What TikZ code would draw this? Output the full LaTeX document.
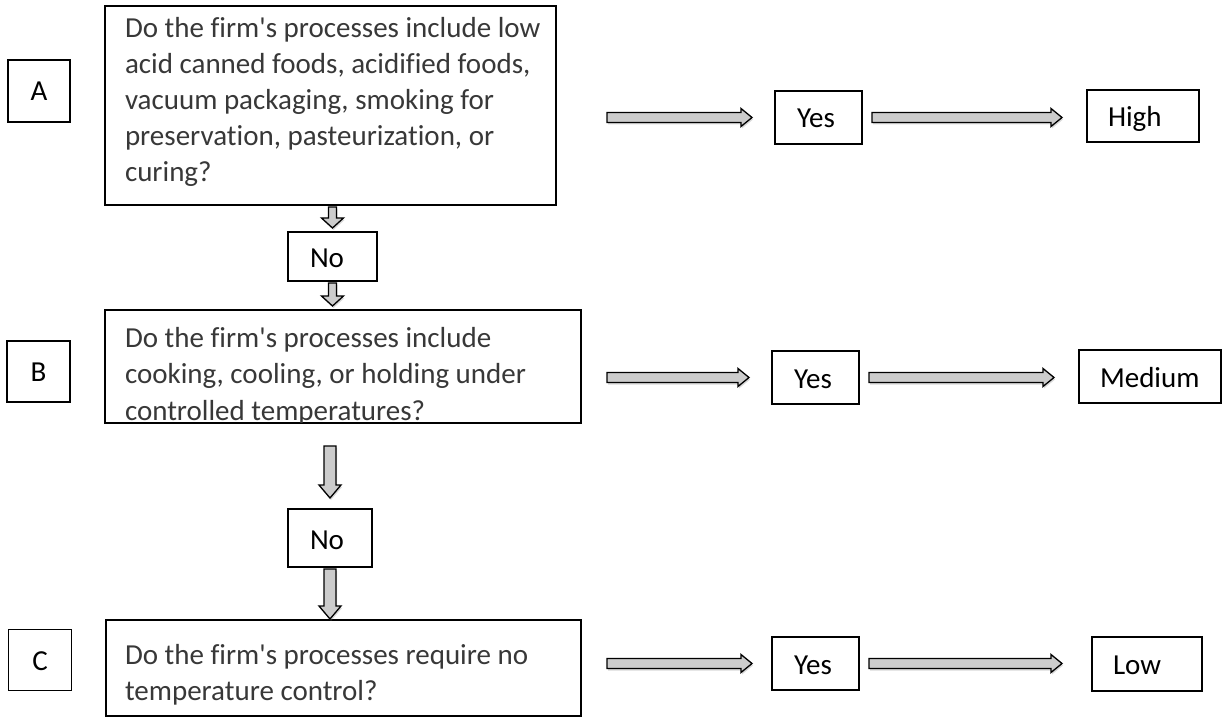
\documentclass[tikz,border=0pt]{standalone}
\usepackage{fontspec}
\setmainfont{Carlito}[Ligatures={NoCommon}]
\usetikzlibrary{calc,shadows}
\newcommand{\apo}{\textquotesingle}
\begin{document}
\begin{tikzpicture}[x=1pt,y=-1pt,
  every node/.style={inner sep=0pt, outer sep=0pt},
  bx/.style={draw=black, line width=1.6pt, fill=white},
  tx/.style={font=\fontsize{29}{36}\selectfont, text=black},
  qt/.style={font=\fontsize{29}{36}\selectfont, text=black!78, anchor=base west},
  arr/.style={draw=black, line width=1.3pt, fill=black!20, line join=miter,
    drop shadow={shadow xshift=1pt, shadow yshift=-2pt, opacity=0.3}},
  harrow/.style 2 args={arr, to path={let \p1=(\tikztostart), \p2=(\tikztotarget) in
     (\x1+#1,\y2+5) -- (\x2-#2-11,\y2+5) -- (\x2-#2-11,\y2+9) -- (\x2-#2,\y2)
     -- (\x2-#2-11,\y2-9) -- (\x2-#2-11,\y2-5) -- (\x1+#1,\y2-5) -- cycle}},
  varrow/.style n args={5}{arr, to path={let \p1=(\tikztostart), \p2=(\tikztotarget) in
     (\x1-#3,\y1-#1) -- (\x1-#3,\y2+#2+#5) -- (\x1-#4,\y2+#2+#5) -- (\x1,\y2+#2)
     -- (\x1+#4,\y2+#2+#5) -- (\x1+#3,\y2+#2+#5) -- (\x1+#3,\y1-#1) -- cycle}}
]
\useasboundingbox (0,0) rectangle (1223,719);

% label boxes
\node[bx, minimum width=62, minimum height=62] (labA) at (39,91) {};
\node[tx, anchor=base] (tlabA) at ($(labA.center)+(0,10)$) {A};
\node[bx, minimum width=63, minimum height=61] (labB) at (38.5,371.5) {};
\node[tx, anchor=base] (tlabB) at ($(labB.center)+(0,10)$) {B};
\node[bx, minimum width=63, minimum height=61] (labC) at (40,660) {};
\node[tx, anchor=base] (tlabC) at ($(labC.center)+(0,10)$) {C};

% question boxes
\node[bx, minimum width=451, minimum height=199] (qa) at (330.5,105.5) {};
\node[qt] (tqa) at (125,38) {\parbox[t]{440pt}{\fontsize{29}{36}\selectfont\raggedright
  Do the firm\apo s processes include low\\
  acid canned foods, acidified foods,\\
  vacuum packaging, smoking for\\
  preservation, pasteurization, or\\
  curing?}};

\node[bx, minimum width=476, minimum height=113] (qb) at (343,366.5) {};
\begin{scope}
  \clip (qb.north west) rectangle ($(qb.south east)+(0,-1)$);
  \node[qt] (tqb) at (125,347) {\parbox[t]{450pt}{\fontsize{29}{36.5}\selectfont\raggedright
    Do the firm\apo s processes include\\
    cooking, cooling, or holding under\\
    controlled temperatures?}};
\end{scope}

\node[bx, minimum width=475, minimum height=96] (qc) at (343.5,668) {};
\node[qt] (tqc) at (125,664) {\parbox[t]{450pt}{\fontsize{29}{36}\selectfont\raggedright
  Do the firm\apo s processes require no\\
  temperature control?}};

% No boxes
\node[bx, minimum width=89, minimum height=49] (no1) at (332.5,256.5) {};
\node[tx, anchor=base west] (tno1) at ($(no1.west)+(22,11)$) {No};
\node[bx, minimum width=84, minimum height=58] (no2) at (330,538) {};
\node[tx, anchor=base west] (tno2) at ($(no2.west)+(22,11)$) {No};

% Yes boxes
\node[bx, minimum width=87, minimum height=53] (ya) at (818.5,117.5) {};
\node[tx, anchor=base west] (tya) at ($(ya.west)+(22,10.5)$) {Yes};
\node[bx, minimum width=87, minimum height=53] (yb) at (815.5,377.5) {};
\node[tx, anchor=base west] (tyb) at ($(yb.west)+(22,10.5)$) {Yes};
\node[bx, minimum width=87, minimum height=53] (yc) at (815.5,663.5) {};
\node[tx, anchor=base west] (tyc) at ($(yc.west)+(22,10.5)$) {Yes};

% result boxes
\node[bx, minimum width=112, minimum height=52] (hi) at (1143,116) {};
\node[tx, anchor=base west] (thi) at ($(hi.west)+(21,10.5)$) {High};
\node[bx, minimum width=142, minimum height=53] (me) at (1150,376.5) {};
\node[tx, anchor=base west] (tme) at ($(me.west)+(21,10.5)$) {Medium};
\node[bx, minimum width=110, minimum height=54] (lo) at (1147,664) {};
\node[tx, anchor=base west] (tlo) at ($(lo.west)+(21,10.5)$) {Low};

% horizontal arrows
\draw[harrow={51}{23}] (ya.west -| qa.east) to (ya.west);
\draw[harrow={10}{25}] (ya.east) to (hi.west |- ya.east);
\draw[harrow={26}{23}] (yb.west -| qb.east) to (yb.west);
\draw[harrow={10}{25}] (yb.east) to (me.west |- yb.east);
\draw[harrow={26}{20}] (yc.west -| qc.east) to (yc.west);
\draw[harrow={10}{30}] (yc.east) to (lo.west |- yc.east);

% vertical arrows
\draw[varrow={2}{4}{4}{11}{10}] (no1.north |- qa.south) to (no1.north);
\draw[varrow={2}{4}{4}{11}{10}] (no1.south) to (no1.south |- qb.north);
\draw[varrow={23}{11}{6}{11}{13}] (no2.north |- qb.south) to (no2.north);
\draw[varrow={2}{1}{6}{11}{13}] (no2.south) to (no2.south |- qc.north);
\end{tikzpicture}
\end{document}
